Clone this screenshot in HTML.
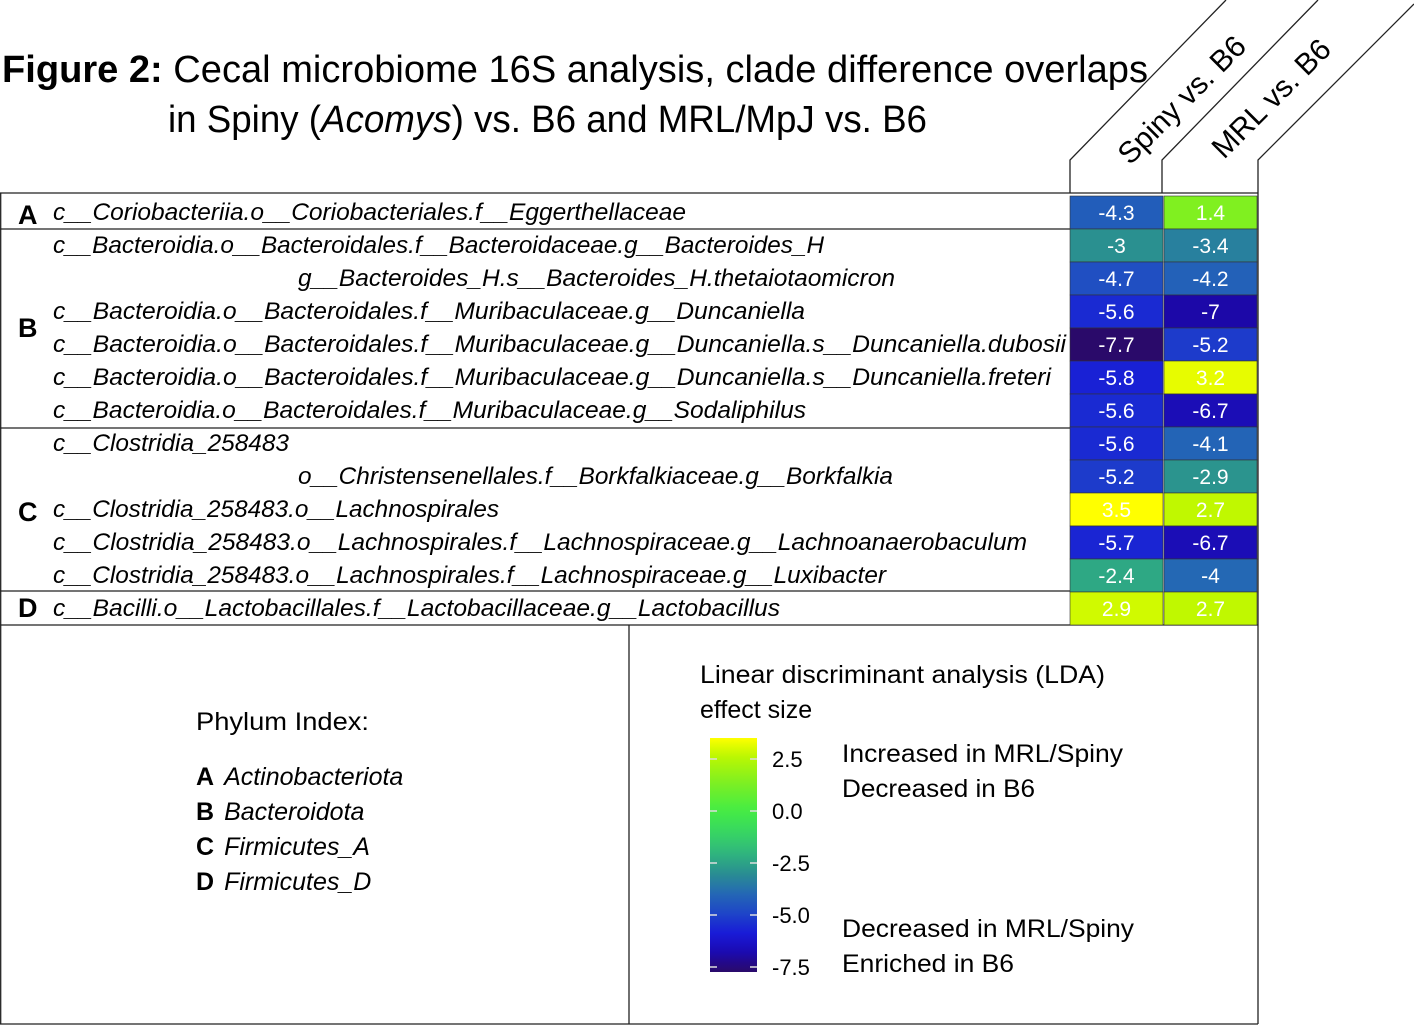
<!DOCTYPE html>
<html><head><meta charset="utf-8"><style>
html,body{margin:0;padding:0;background:#fff;}
svg{display:block;font-family:"Liberation Sans",sans-serif;}
</style></head><body>
<svg id="fig" width="1414" height="1025" viewBox="0 0 1414 1025">
<g>
<text x="2" y="82" font-size="38" textLength="1146" lengthAdjust="spacingAndGlyphs"><tspan font-weight="bold">Figure 2:</tspan> Cecal microbiome 16S analysis, clade difference overlaps</text>
<text x="168" y="132" font-size="38" textLength="759" lengthAdjust="spacingAndGlyphs">in Spiny (<tspan font-style="italic">Acomys</tspan>) vs. B6 and MRL/MpJ vs. B6</text>
</g>
<g stroke="#222" stroke-width="1.3" fill="none">
<polyline points="1070,193 1070,160 1226,0"/>
<polyline points="1162,193 1162,160 1318,0"/>
<polyline points="1258,193 1258,160 1414,4"/>
</g>
<text x="0" y="0" font-size="30" transform="translate(1130,166) rotate(-45)">Spiny vs. B6</text>
<text x="0" y="0" font-size="30" transform="translate(1224,160) rotate(-45)">MRL vs. B6</text>
<g id="grid" stroke="#222" stroke-width="1.3" fill="none">
<line x1="0" y1="193" x2="1258" y2="193"/>
<line x1="0" y1="229" x2="1070" y2="229"/>
<line x1="0" y1="428" x2="1070" y2="428"/>
<line x1="0" y1="591" x2="1070" y2="591"/>
<line x1="0" y1="625" x2="1258" y2="625"/>
<line x1="0.7" y1="193" x2="0.7" y2="1024"/>
<line x1="0" y1="1024" x2="1258" y2="1024"/>
<line x1="629" y1="625" x2="629" y2="1024"/>
<line x1="1258" y1="193" x2="1258" y2="1024"/>
</g>
<g id="rows"></g>
<g id="cells"></g>
<g font-weight="bold" font-size="27">
<text x="18" y="224">A</text><text x="18" y="337">B</text><text x="18" y="521">C</text><text x="18" y="617">D</text>
</g>
<g font-size="25">
<text x="196" y="730" textLength="173" lengthAdjust="spacingAndGlyphs">Phylum Index:</text>
<text x="196" y="785"><tspan font-weight="bold">A</tspan><tspan font-style="italic" dx="10">Actinobacteriota</tspan></text>
<text x="196" y="820"><tspan font-weight="bold">B</tspan><tspan font-style="italic" dx="10">Bacteroidota</tspan></text>
<text x="196" y="855"><tspan font-weight="bold">C</tspan><tspan font-style="italic" dx="10">Firmicutes_A</tspan></text>
<text x="196" y="890"><tspan font-weight="bold">D</tspan><tspan font-style="italic" dx="10">Firmicutes_D</tspan></text>
</g>
<g font-size="25">
<text x="700" y="683" textLength="405" lengthAdjust="spacingAndGlyphs">Linear discriminant analysis (LDA)</text>
<text x="700" y="718">effect size</text>
<text x="842" y="762" textLength="281" lengthAdjust="spacingAndGlyphs">Increased in MRL/Spiny</text>
<text x="842" y="797" textLength="193" lengthAdjust="spacingAndGlyphs">Decreased in B6</text>
<text x="842" y="937" textLength="292" lengthAdjust="spacingAndGlyphs">Decreased in MRL/Spiny</text>
<text x="842" y="972" textLength="172" lengthAdjust="spacingAndGlyphs">Enriched in B6</text>
</g>
<defs><linearGradient id="cb" x1="0" y1="1" x2="0" y2="0"></linearGradient></defs>
<rect x="710" y="738" width="47" height="234" fill="url(#cb)"/>
<g id="cbticks"></g>
</svg>
<script>
const labels=["c__Coriobacteriia.o__Coriobacteriales.f__Eggerthellaceae","c__Bacteroidia.o__Bacteroidales.f__Bacteroidaceae.g__Bacteroides_H","g__Bacteroides_H.s__Bacteroides_H.thetaiotaomicron","c__Bacteroidia.o__Bacteroidales.f__Muribaculaceae.g__Duncaniella","c__Bacteroidia.o__Bacteroidales.f__Muribaculaceae.g__Duncaniella.s__Duncaniella.dubosii","c__Bacteroidia.o__Bacteroidales.f__Muribaculaceae.g__Duncaniella.s__Duncaniella.freteri","c__Bacteroidia.o__Bacteroidales.f__Muribaculaceae.g__Sodaliphilus","c__Clostridia_258483","o__Christensenellales.f__Borkfalkiaceae.g__Borkfalkia","c__Clostridia_258483.o__Lachnospirales","c__Clostridia_258483.o__Lachnospirales.f__Lachnospiraceae.g__Lachnoanaerobaculum","c__Clostridia_258483.o__Lachnospirales.f__Lachnospiraceae.g__Luxibacter","c__Bacilli.o__Lactobacillales.f__Lactobacillaceae.g__Lactobacillus"];
const spiny=[-4.3,-3,-4.7,-5.6,-7.7,-5.8,-5.6,-5.6,-5.2,3.5,-5.7,-2.4,2.9];
const mrl=[1.4,-3.4,-4.2,-7,-5.2,3.2,-6.7,-4.1,-2.9,2.7,-6.7,-4,2.7];
const colorTicks=[2.5,0.0,-2.5,-5.0,-7.5];
const NS="http://www.w3.org/2000/svg";
const stops=[[-7.7,[42,10,106]],[-7,[28,8,168]],[-6,[24,24,216]],[-5,[30,68,200]],[-4,[36,104,180]],[-3,[42,144,144]],[-2,[48,184,124]],[-1,[56,216,96]],[0,[68,236,68]],[1.4,[128,240,32]],[2.7,[192,248,0]],[3.5,[255,255,0]]];
function col(v){if(v<=stops[0][0])return rgb(stops[0][1]);for(let i=1;i<stops.length;i++){if(v<=stops[i][0]){const a=stops[i-1],b=stops[i];const t=(v-a[0])/(b[0]-a[0]);return rgb(a[1].map((c,k)=>c+(b[1][k]-c)*t));}}return rgb(stops[stops.length-1][1]);}
function rgb(c){return "rgb("+c.map(Math.round).join(",")+")";}
const rowY=i=>196+i*33;
const indent=[2,8];
const ends=[686,824,895,805,1066,1051,806,289,893,499,1027,886,780];
const rowsG=document.getElementById('rows');
labels.forEach((l,i)=>{const t=document.createElementNS(NS,'text');


const x=indent.includes(i)?298:53;t.setAttribute('x',x);t.setAttribute('y',rowY(i)+24);t.setAttribute('font-size','24');t.setAttribute('font-style','italic');t.setAttribute('textLength',ends[i]-x);t.setAttribute('lengthAdjust','spacingAndGlyphs');t.textContent=l;rowsG.appendChild(t);});
const cellsG=document.getElementById('cells');
[[spiny,1070,'spiny'],[mrl,1164,'mrl']].forEach(([arr,x,nm])=>{arr.forEach((v,i)=>{const r=document.createElementNS(NS,'rect');


r.setAttribute('x',x);r.setAttribute('y',rowY(i));r.setAttribute('width',93);r.setAttribute('height',33);r.setAttribute('fill',col(v));r.setAttribute('stroke','#333');r.setAttribute('stroke-width','0.6');cellsG.appendChild(r);
const t=document.createElementNS(NS,'text');


t.setAttribute('x',x+46.5);t.setAttribute('y',rowY(i)+24);t.setAttribute('text-anchor','middle');t.setAttribute('font-size','21');t.setAttribute('fill','#fff');t.textContent=String(v);cellsG.appendChild(t);});});
const g=document.getElementById('cb');
for(let k=0;k<=24;k++){const v=-7.8+k*(3.5+7.8)/24;const s=document.createElementNS(NS,'stop');s.setAttribute('offset',(k/24));s.setAttribute('stop-color',col(v));g.appendChild(s);}
const cbY=v=>811-v*(52/2.5);
const tk=document.getElementById('cbticks');
colorTicks.forEach(v=>{[[710,717],[750,757]].forEach(([a,b])=>{const l=document.createElementNS(NS,'line');


l.setAttribute('x1',a);l.setAttribute('x2',b);l.setAttribute('y1',cbY(v));l.setAttribute('y2',cbY(v));l.setAttribute('stroke','#ddd');l.setAttribute('stroke-width','1.5');tk.appendChild(l);});
const t=document.createElementNS(NS,'text');


t.setAttribute('x',772);t.setAttribute('y',cbY(v)+8);t.setAttribute('font-size','22');t.textContent=v.toFixed(1);tk.appendChild(t);});
</script>
</body></html>
